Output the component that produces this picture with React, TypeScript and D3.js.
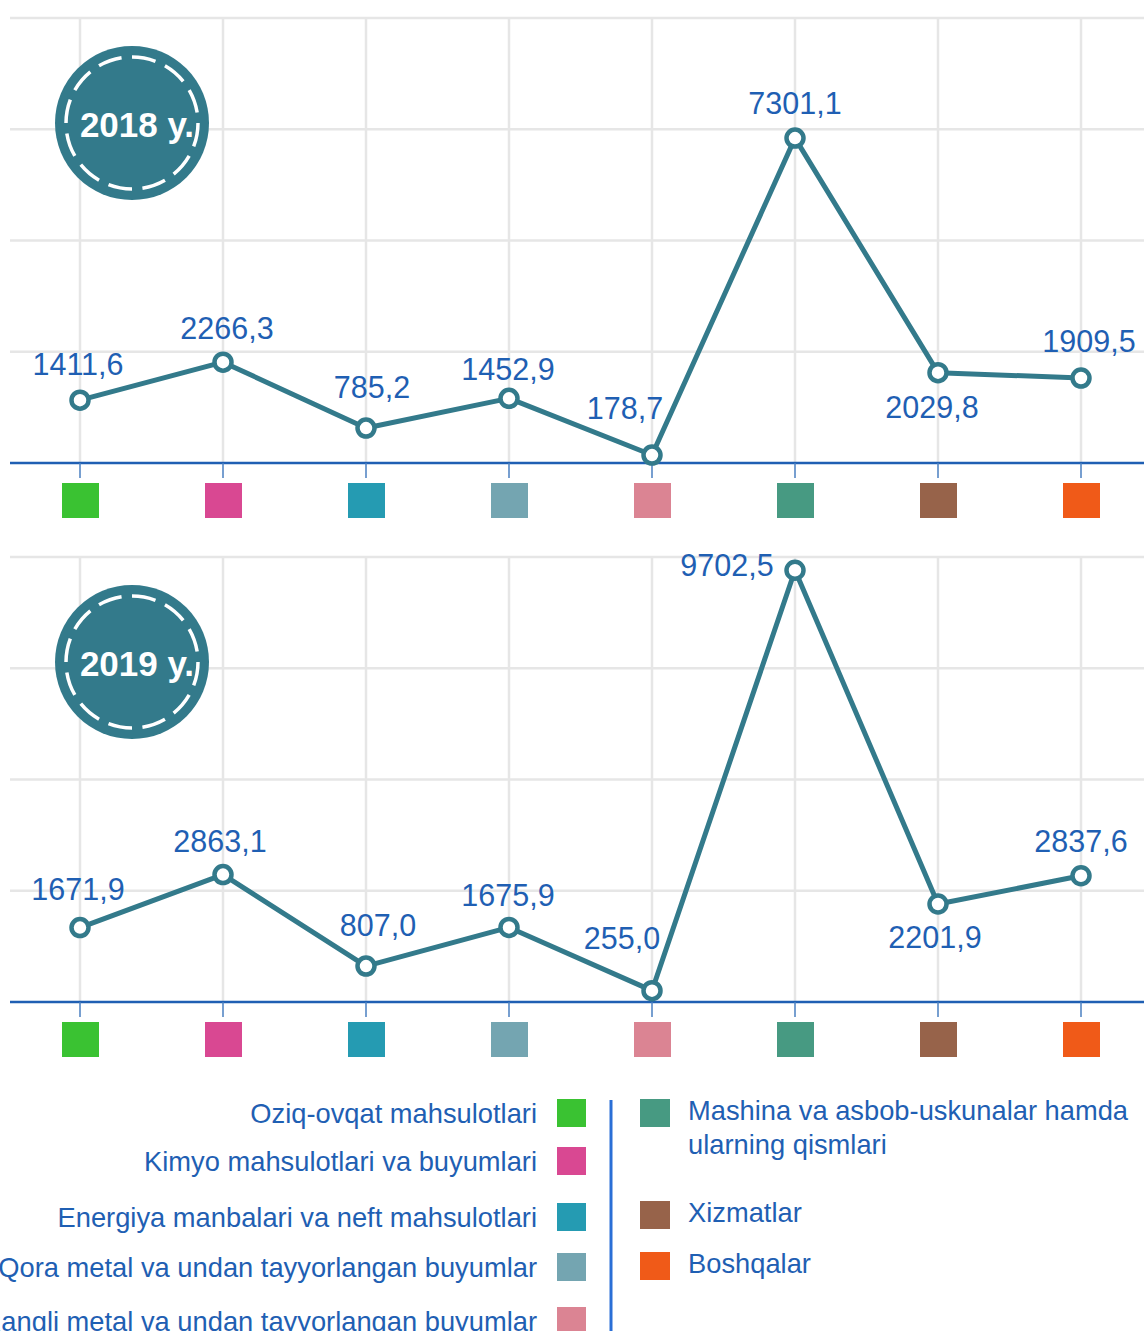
import React, { useEffect, useRef } from 'react';
import * as d3 from 'd3';

const categories = [
  'Oziq-ovqat mahsulotlari',
  'Kimyo mahsulotlari va buyumlari',
  'Energiya manbalari va neft mahsulotlari',
  'Qora metal va undan tayyorlangan buyumlar',
  'Rangli metal va undan tayyorlangan buyumlar',
  'Mashina va asbob-uskunalar hamda ularning qismlari',
  'Xizmatlar',
  'Boshqalar',
];

const categoryColors = ['#3ac232', '#d94892', '#259bb2', '#74a5b1', '#db8493', '#479a82', '#97634a', '#f05a18'];

const years = ['2018 y.', '2019 y.'];
const values2018 = [1411.6, 2266.3, 785.2, 1452.9, 178.7, 7301.1, 2029.8, 1909.5];
const values2019 = [1671.9, 2863.1, 807.0, 1675.9, 255.0, 9702.5, 2201.9, 2837.6];
const yTicks = [0, 2500, 5000, 7500, 10000];

const W = 1144;
const H = 1331;
const LINE = '#337a8b';
const BLUE = '#1f5fb3';
const GRID = '#e6e6e6';
const FONT = '"Liberation Sans", Arial, sans-serif';

// label nudges per point (dx, dy from the marker), one list per panel
const labelNudge2018: [number, number][] = [[-2, -25], [4, -23], [6, -30], [-1, -18], [-27, -36], [0, -24], [-6, 45], [8, -26]];
const labelNudge2019: [number, number][] = [[-2, -28], [-3, -23], [12, -30], [-1, -21], [-30, -42], [-68, 6], [-3, 44], [0, -24]];

export default function App() {
  const svgRef = useRef<SVGSVGElement>(null);

  useEffect(() => {
    if (!svgRef.current) return;
    const svg = d3.select(svgRef.current);
    svg.selectAll('*').remove();

    const x = d3.scaleBand<string>().domain(categories).range([8.5, 1152.5]).padding(0);
    const cx = (c: string) => (x(c) || 0) + x.bandwidth() / 2;
    const fmt = (v: number) => d3.format('.1f')(v).replace('.', ',');

    const panels = [
      { axisY: 463, values: values2018, nudge: labelNudge2018, year: years[0] },
      { axisY: 1002, values: values2019, nudge: labelNudge2019, year: years[1] },
    ];

    panels.forEach(p => {
      const y = d3.scaleLinear().domain([0, 10000]).range([p.axisY, p.axisY - 445]);
      const g = svg.append('g');

      // horizontal grid
      g.selectAll('line.hgrid')
        .data(yTicks.slice(1))
        .join('line')
        .attr('x1', 10).attr('x2', W)
        .attr('y1', d => y(d)).attr('y2', d => y(d))
        .attr('stroke', GRID).attr('stroke-width', 2.5);

      // vertical grid
      g.selectAll('line.vgrid')
        .data(categories)
        .join('line')
        .attr('x1', d => cx(d)).attr('x2', d => cx(d))
        .attr('y1', y(10000)).attr('y2', p.axisY)
        .attr('stroke', GRID).attr('stroke-width', 2.5);

      // badge
      const bx = 132, by = y(10000) + 105;
      g.append('circle').attr('cx', bx).attr('cy', by).attr('r', 77).attr('fill', LINE);
      g.append('circle').attr('cx', bx).attr('cy', by).attr('r', 66)
        .attr('fill', 'none').attr('stroke', '#fff').attr('stroke-width', 3.5)
        .attr('stroke-dasharray', '24,10.5');
      g.append('text').attr('x', bx + 5).attr('y', by + 14)
        .attr('text-anchor', 'middle').attr('fill', '#fff')
        .attr('font-family', FONT).attr('font-weight', 'bold').attr('font-size', 35)
        .text(p.year);

      // axis
      g.append('line').attr('x1', 10).attr('x2', W).attr('y1', p.axisY).attr('y2', p.axisY)
        .attr('stroke', BLUE).attr('stroke-width', 2.5);
      g.selectAll('line.tick')
        .data(categories)
        .join('line')
        .attr('x1', d => cx(d)).attr('x2', d => cx(d))
        .attr('y1', p.axisY).attr('y2', p.axisY + 15)
        .attr('stroke', '#4a7fc0').attr('stroke-width', 1.5);

      // colour squares
      g.selectAll('rect.sq')
        .data(categories)
        .join('rect')
        .attr('x', d => cx(d) - 18).attr('y', p.axisY + 20)
        .attr('width', 37).attr('height', 35)
        .attr('fill', (_, i) => categoryColors[i]);

      // line
      const line = d3.line<number>()
        .x((_, i) => cx(categories[i]))
        .y(d => y(d));
      g.append('path').datum(p.values).attr('d', line)
        .attr('fill', 'none').attr('stroke', LINE).attr('stroke-width', 5)
        .attr('stroke-linejoin', 'round');

      g.selectAll('circle.pt')
        .data(p.values)
        .join('circle')
        .attr('cx', (_, i) => cx(categories[i])).attr('cy', d => y(d))
        .attr('r', 8.5).attr('fill', '#fff').attr('stroke', LINE).attr('stroke-width', 4.5);

      g.selectAll('text.lbl')
        .data(p.values)
        .join('text')
        .attr('x', (_, i) => cx(categories[i]) + p.nudge[i][0])
        .attr('y', (d, i) => y(d) + p.nudge[i][1])
        .attr('text-anchor', 'middle').attr('fill', BLUE)
        .attr('font-family', FONT).attr('font-size', 30.5)
        .text(d => fmt(d));
    });

    // legend
    const leftRows = [1099, 1147, 1203, 1253, 1307];
    const rightRows = [1099, 1201, 1252];
    const lg = svg.append('g').attr('font-family', FONT).attr('font-size', 27.3).attr('fill', BLUE);

    categories.slice(0, 5).forEach((c, i) => {
      lg.append('rect').attr('x', 557).attr('y', leftRows[i]).attr('width', 29).attr('height', 28)
        .attr('fill', categoryColors[i]);
      lg.append('text').attr('x', 537).attr('y', leftRows[i] + 24).attr('text-anchor', 'end').text(c);
    });

    lg.append('line').attr('x1', 611).attr('x2', 611).attr('y1', 1100).attr('y2', H)
      .attr('stroke', '#2a6fd6').attr('stroke-width', 3);

    categories.slice(5).forEach((c, j) => {
      const i = j + 5;
      lg.append('rect').attr('x', 640).attr('y', rightRows[j]).attr('width', 30).attr('height', 28)
        .attr('fill', categoryColors[i]);
      const t = lg.append('text').attr('x', 688).attr('y', rightRows[j] + 21);
      // word wrap to the available width
      const words = c.split(' ');
      let tspan = t.append('tspan').attr('x', 688).attr('dy', 0);
      let cur: string[] = [];
      words.forEach(w => {
        cur.push(w);
        tspan.text(cur.join(' '));
        if ((tspan.node() as SVGTSpanElement).getComputedTextLength() > 450 && cur.length > 1) {
          cur.pop();
          tspan.text(cur.join(' '));
          cur = [w];
          tspan = t.append('tspan').attr('x', 688).attr('dy', 34).text(w);
        }
      });
    });
  }, []);

  return (
    <div style={{ position: 'absolute', left: 0, top: 0, width: W, height: H, overflow: 'hidden', background: '#fff' }}>
      <svg ref={svgRef} width={W} height={H} style={{ display: 'block' }}></svg>
    </div>
  );
}
